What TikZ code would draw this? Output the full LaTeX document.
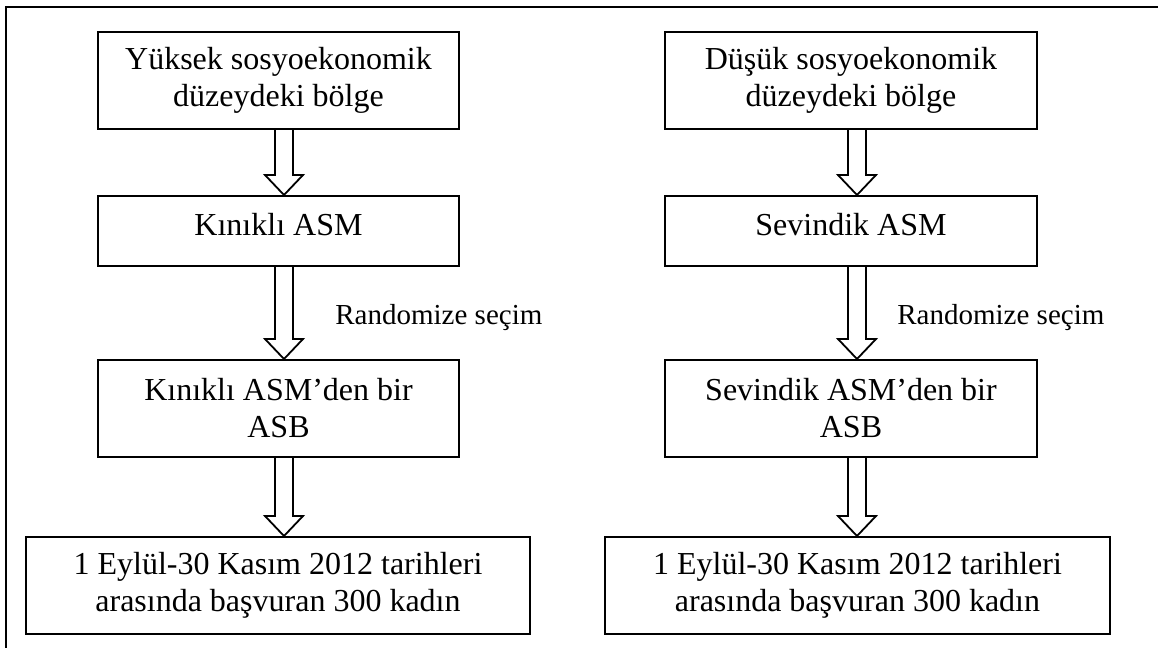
\documentclass[tikz,border=0pt]{standalone}
\usepackage{fontspec}
\setmainfont{Liberation Serif}
\usetikzlibrary{calc}
\newcommand\blockarrow[3]{%
  \draw[barrow] ($(#2.south -| #1)+(-9,0)$) -- ($(#3.north -| #1)+(-9,-20)$)
    -- ($(#3.north -| #1)+(-19,-20)$) -- (#3.north -| #1)
    -- ($(#3.north -| #1)+(19,-20)$) -- ($(#3.north -| #1)+(9,-20)$)
    -- ($(#2.south -| #1)+(9,0)$);}
\begin{document}
\begin{tikzpicture}[x=0.5pt,y=-0.5pt,
  box/.style={draw,line width=1pt,inner sep=0pt,align=center,
    font=\fontsize{16}{18.5}\selectfont},
  onebox/.style={box,text height=19.5pt,text depth=15.5pt},
  lbl/.style={anchor=base west,inner sep=0pt,font=\fontsize{14.5}{17}\selectfont},
  frame/.style={line width=1.15pt},
  barrow/.style={line width=0.9pt,line join=miter}]
\useasboundingbox (0,0) rectangle (1158,648);
\draw[frame] (6,648) -- (6,7) -- (1158,7);
\coordinate (axL) at (284,0);
\coordinate (axR) at (857,0);
% left column
\node[box,minimum width=180.5pt,minimum height=48.5pt] (L1) at (278.5,80.5) {Yüksek sosyoekonomik\\düzeydeki bölge};
\node[onebox,minimum width=180.5pt,minimum height=35pt] (L2) at (278.5,231) {Kınıklı ASM};
\node[box,minimum width=180.5pt,minimum height=48.5pt] (L3) at (278.5,408.5) {Kınıklı ASM’den bir\\ASB};
\node[box,minimum width=252pt,minimum height=48.5pt] (L4) at (278,585.5) {1 Eylül-30 Kasım 2012 tarihleri\\arasında başvuran 300 kadın};
% right column
\node[box,minimum width=186pt,minimum height=48.5pt] (R1) at (851,80.5) {Düşük sosyoekonomik\\düzeydeki bölge};
\node[onebox,minimum width=186pt,minimum height=35pt] (R2) at (851,231) {Sevindik ASM};
\node[box,minimum width=186pt,minimum height=48.5pt] (R3) at (851,408.5) {Sevindik ASM’den bir\\ASB};
\node[box,minimum width=252.5pt,minimum height=48.5pt] (R4) at (857.5,585.5) {1 Eylül-30 Kasım 2012 tarihleri\\arasında başvuran 300 kadın};
% labels
\node[lbl] (rl) at (335,324) {Randomize seçim};
\node[lbl] (rr) at (897,324) {Randomize seçim};
% arrows
\blockarrow{axL}{L1}{L2}
\blockarrow{axL}{L2}{L3}
\blockarrow{axL}{L3}{L4}
\blockarrow{axR}{R1}{R2}
\blockarrow{axR}{R2}{R3}
\blockarrow{axR}{R3}{R4}
\end{tikzpicture}
\end{document}
